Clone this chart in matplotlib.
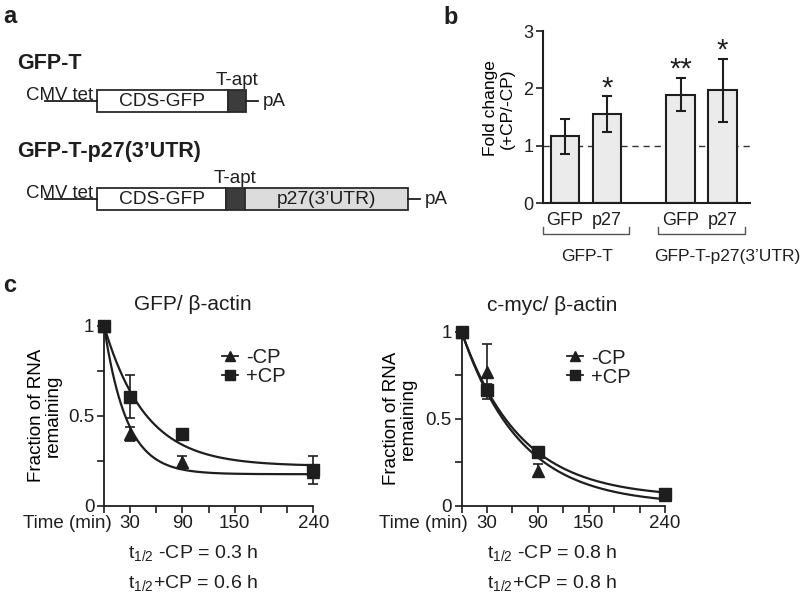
import numpy as np
import matplotlib
matplotlib.use('Agg')
import matplotlib.pyplot as plt
from matplotlib.patches import Rectangle
from matplotlib.lines import Line2D

plt.rcParams['font.family'] = ['Liberation Sans', 'DejaVu Sans']
plt.rcParams['text.color'] = '#1e1e1e'
plt.rcParams['axes.edgecolor'] = '#1e1e1e'
plt.rcParams['xtick.color'] = '#1e1e1e'
plt.rcParams['ytick.color'] = '#1e1e1e'

# panel b: fold change (+CP/-CP)
bar_labels = ['GFP', 'p27', 'GFP', 'p27']
bar_pos = [0, 1, 2.75, 3.75]
fold_change = [1.16, 1.55, 1.89, 1.97]
fold_sd = [0.30, 0.31, 0.29, 0.55]
stars = ['', '*', '**', '*']
groups = ['GFP-T', 'GFP-T-p27(3\u2019UTR)']

# panel c: RNA decay
times = [0, 30, 90, 240]
gfp_minus = [1.0, 0.40, 0.245, 0.19]
gfp_minus_err = [0, 0.04, 0.03, 0.03]
gfp_plus = [1.0, 0.605, 0.40, 0.20]
gfp_plus_err = [0, 0.12, 0.02, 0.078]
myc_minus = [1.0, 0.77, 0.20, 0.06]
myc_minus_err = [0, 0.16, 0.036, 0.0]
myc_plus = [1.0, 0.665, 0.31, 0.064]
myc_plus_err = [0, 0.035, 0.02, 0.01]

# one-phase decay fits: half-life (min), plateau
gfp_fit = {'-CP': (18, 0.175), '+CP': (33, 0.22)}
myc_fit = {'-CP': (48, 0.005), '+CP': (48, 0.045)}
half_life_txt = {'gfp': ('0.3', '0.6'), 'myc': ('0.8', '0.8')}

W, H = 800, 596
fig = plt.figure(figsize=(W / 100, H / 100), dpi=100)


def axes_px(x0, top, x1, bottom):
    ax = fig.add_axes([x0 / W, 1 - bottom / H, (x1 - x0) / W, (bottom - top) / H])
    ax.patch.set_visible(False)
    return ax


# overlay for schematic and panel letters
ov = fig.add_axes([0, 0, 1, 1])
ov.set_xlim(0, W)
ov.set_ylim(H, 0)
ov.axis('off')

for letter, x, y in [('a', 3, 23), ('b', 443, 24), ('c', 3, 292)]:
    ov.text(x, y, letter, fontsize=17, fontweight='bold', va='baseline')


def construct(yc, title, title_y, segs, end):
    ov.text(17, title_y, title, fontsize=15.5, fontweight='bold', va='baseline')
    ov.plot([45, 97], [yc, yc], color='#1e1e1e', lw=1.3)
    ov.text(60, yc - 1.5, 'CMV tet', fontsize=13.4, ha='center', va='baseline')
    for x0, x1, fc, lab in segs:
        ov.add_patch(Rectangle((x0, yc - 11), x1 - x0, 22, facecolor=fc,
                               edgecolor='#2a2a2a', lw=1.3))
        if lab:
            ov.text((x0 + x1) / 2, yc, lab, fontsize=13.8, ha='center', va='center')
    dark = segs[1]
    ov.text((dark[0] + dark[1]) / 2, yc - 12, 'T-apt', fontsize=13.6, ha='center', va='bottom')
    ov.plot([end, end + 12], [yc, yc], color='#1e1e1e', lw=1.3)
    ov.text(end + 17, yc + 1, 'pA', fontsize=13.6, ha='left', va='center')


construct(101, 'GFP-T', 69, [(97, 228, 'white', 'CDS-GFP'), (228, 246, '#3c3c3c', '')], 246)
construct(199, 'GFP-T-p27(3\u2019UTR)', 157,
          [(97, 226, 'white', 'CDS-GFP'), (226, 245, '#3c3c3c', ''),
           (245, 408, '#dcdcdc', 'p27(3\u2019UTR)')], 408)

# ---- panel b ----
axb = axes_px(543, 31, 750, 203)
axb.bar(bar_pos, fold_change, width=0.68, color='#ebebeb', edgecolor='#1e1e1e', lw=1.5,
        yerr=fold_sd, capsize=3.8, error_kw=dict(elinewidth=1.5, capthick=1.5, ecolor='#1e1e1e'),
        zorder=2)
axb.axhline(1, color='#333333', lw=1.0, ls=(0, (4.5, 3.5)), zorder=1)
for p, v, s, st in zip(bar_pos, fold_change, fold_sd, stars):
    if st:
        axb.annotate(st, (p, v + s), xytext=(0, 0), textcoords='offset points',
                     ha='center', va='baseline', fontsize=21)
axb.set_xlim(-0.52, 4.4)
axb.set_ylim(0, 3)
axb.set_yticks([0, 1, 2, 3])
axb.set_xticks(bar_pos)
axb.set_xticklabels(bar_labels, fontsize=13)
axb.tick_params(axis='x', length=0, pad=6.5)
axb.tick_params(axis='y', labelsize=13, length=5, width=1.2, pad=2)
for sp in ['top', 'right']:
    axb.spines[sp].set_visible(False)
for sp in ['left', 'bottom']:
    axb.spines[sp].set_linewidth(1.5)
axb.set_ylabel('Fold change\n(+CP/-CP)', fontsize=12.5, linespacing=1.15)
axb.yaxis.set_label_coords(-0.135, 0.55)
tr = axb.get_xaxis_transform()
label_shift = [0.03, 0.62]
for i, g in enumerate(groups):
    c = (bar_pos[2 * i] + bar_pos[2 * i + 1]) / 2
    axb.plot([c - 1.03, c - 1.03, c + 1.03, c + 1.03], [-0.14, -0.18, -0.18, -0.14],
             transform=tr, clip_on=False, color='#555555', lw=1.0)
    axb.text(c + label_shift[i], -0.31, g, transform=tr, ha='center', va='center', fontsize=12.5)


# ---- panel c ----
def decay_panel(box, minus, minus_err, plus, plus_err, fit, title, title_x, title_y, ylab_x,
                leg_xy, hl):
    ax = axes_px(*box)
    for key, (th, plat) in fit.items():
        t = np.linspace(0, 240, 200)
        ax.plot(t, plat + (1 - plat) * np.exp(-np.log(2) * t / th), color='#1e1e1e', lw=1.6,
                zorder=2)
    ax.errorbar(times, minus, yerr=minus_err, fmt='^', ms=8, color='#1e1e1e', capsize=3.5,
                elinewidth=1.2, capthick=1.2, clip_on=False, zorder=3)
    ax.errorbar(times, plus, yerr=plus_err, fmt='s', ms=8, color='#1e1e1e', capsize=3.5,
                elinewidth=1.2, capthick=1.2, clip_on=False, zorder=4)
    ax.set_xlim(0, 240)
    ax.set_ylim(0, 1)
    ax.set_xticks(range(0, 241, 30))
    ax.set_xticklabels(['', '30', '', '90', '', '150', '', '', '240'])
    ax.set_yticks([0, 0.25, 0.5, 0.75, 1])
    ax.set_yticklabels(['0', '', '0.5', '', '1'])
    ax.tick_params(labelsize=13.5, length=5, width=1.2, pad=2)
    for sp in ['top', 'right']:
        ax.spines[sp].set_visible(False)
    for sp in ['left', 'bottom']:
        ax.spines[sp].set_linewidth(1.3)
    ax.set_ylabel('Fraction of RNA\nremaining', fontsize=13.5, linespacing=1.0)
    ax.yaxis.set_label_coords(ylab_x, 0.5)
    ax.text(title_x, title_y, title, transform=ax.transAxes, ha='center', va='center', fontsize=15)
    ax.annotate('Time (min)', (30, 0), xycoords=('data', 'axes fraction'), xytext=(-13.5, -13),
                textcoords='offset points', ha='right', va='center', fontsize=13.5)
    handles = [Line2D([], [], color='#1e1e1e', marker='^', ms=7, lw=1.3),
               Line2D([], [], color='#1e1e1e', marker='s', ms=7, lw=1.3)]
    ax.legend(handles, ['-CP', '+CP'], loc='center left', bbox_to_anchor=leg_xy, frameon=False,
              fontsize=14.5, handlelength=0.8, handletextpad=0.4, labelspacing=0.0, borderpad=0,
              borderaxespad=0)
    # t1/2 annotation under the axis, in pixel offsets from the axis bottom
    ax.annotate(r'$\mathregular{t_{1/2}}$ -CP = ' + hl[0] + ' h', (title_x, 0),
                xycoords='axes fraction', xytext=(0, -34), textcoords='offset points',
                ha='center', va='center', fontsize=14)
    ax.annotate(r'$\mathregular{t_{1/2}}$+CP = ' + hl[1] + ' h', (title_x, 0),
                xycoords='axes fraction', xytext=(0, -56), textcoords='offset points',
                ha='center', va='center', fontsize=14)
    return ax


decay_panel((104, 325.7, 313.3, 505.7), gfp_minus, gfp_minus_err, gfp_plus, gfp_plus_err,
            gfp_fit, 'GFP/ \u03b2-actin', 0.425, 1.115, -0.2, (0.564, 0.768), half_life_txt['gfp'])
decay_panel((461.5, 331.5, 665, 505.5), myc_minus, myc_minus_err, myc_plus, myc_plus_err,
            myc_fit, 'c-myc/ \u03b2-actin', 0.445, 1.152, -0.22, (0.518, 0.793),
            half_life_txt['myc'])

fig.savefig('out.png', dpi=100)
